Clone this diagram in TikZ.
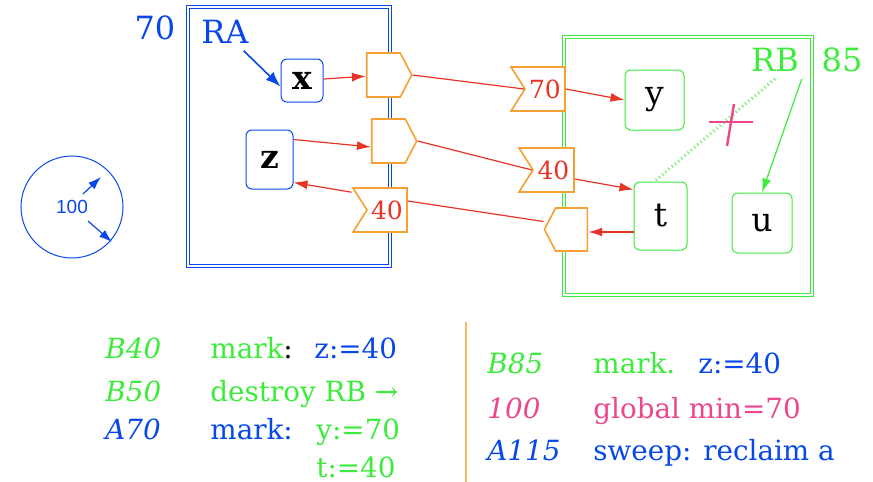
\documentclass[tikz,border=0pt]{standalone}
\usepackage{fontspec}
\usepackage{tikz}
\usetikzlibrary{shapes.symbols, arrows.meta}
\setmainfont{DejaVu Serif}
\newfontfamily\arialsans{Liberation Sans}
\definecolor{GCBlue}{RGB}{8,72,232}
\definecolor{GCGreen}{RGB}{60,235,60}
\definecolor{GCOrange}{RGB}{245,160,50}
\definecolor{GCRed}{RGB}{232,52,38}
\definecolor{GCPink}{RGB}{238,70,140}

\begin{document}
\begin{tikzpicture}[x=0.5pt, y=-0.5pt,
      obj/.style={rectangle, rounded corners=3pt, draw, line width=0.5pt,
                  inner sep=0pt, fill=white, font=\fontsize{16.5}{19}\selectfont},
      tag/.style={signal, draw=GCOrange, line width=0.8pt, inner sep=0pt,
                  fill=white, minimum height=22pt, text=GCRed,
                  font=\fontsize{12.5}{15}\selectfont},
      ptrout/.style={tag, signal to=east, signal pointer angle=125,
                     minimum width=22.5pt},
      ptrin/.style={tag, signal to=west, signal pointer angle=125,
                    minimum width=21.5pt, minimum height=21.5pt},
      msg/.style={tag, signal to=nowhere, signal from=west,
                  signal pointer angle=115, minimum width=27pt},
      frame/.style={line width=0.7pt, double, double distance=1pt},
      ref/.style={-{Latex[length=7pt, width=4.5pt]}, draw=GCRed, line width=0.6pt},
      big/.style={font=\fontsize{16}{19}\selectfont},
      log/.style={anchor=base west, inner sep=0pt, font=\fontsize{13.9}{16}\selectfont}
    ]
    \useasboundingbox (0,0) rectangle (873,482);

    \draw[frame, GCBlue]  (188,7)  rectangle (390,266);
    \draw[frame, GCGreen] (564,37) rectangle (812,295);

    \node[big, text=GCBlue]  (numA) at (155,28) {70};
    \node[big, text=GCBlue]  (ra)   at (225,32) {RA};
    \node[big, text=GCGreen] (rb)   at (775,60) {RB};
    \node[big, text=GCGreen] (numB) at (842,60) {85};

    \node[obj, draw=GCBlue, minimum width=21pt, minimum height=21.5pt]
          (x) at (302,80.5) {\bfseries x};
    \node[obj, draw=GCBlue, minimum width=23.5pt, minimum height=29.5pt]
          (z) at (269.5,159.5) {\bfseries z};
    \node[obj, draw=GCGreen, minimum width=29.5pt, minimum height=30pt]
          (y) at (654.5,100) {y};
    \node[obj, draw=GCGreen, minimum width=26.5pt, minimum height=34pt]
          (t) at (660.5,216) {t};
    \node[obj, draw=GCGreen, minimum width=30pt, minimum height=30pt]
          (u) at (762,223) {u};

    \node[ptrout] (ptrX) at (383.5,75)  {};
    \node[ptrout] (ptrZ) at (388.5,141) {};
    \node[ptrin]  (ptrT) at (571.5,229.5) {};
    \node[msg]    (msgZ) at (387,210)   {40};
    \node[msg]    (msgY) at (545,89)    {70};
    \node[msg, minimum width=27.5pt] (msgT) at (553.5,170) {40};

    \draw[-{Latex[length=7.5pt, width=5.5pt]}, GCBlue, line width=0.8pt]
          ([xshift=-6pt]ra.south east) -- ([yshift=-3pt]x.west);

    \draw[ref] (x) -- (ptrX);
    \draw[ref] ([yshift=10pt]z.east) -- ([yshift=-3pt]ptrZ.west);
    \draw[ref] ([yshift=-2.5pt]msgZ.north west) -- ([yshift=3.5pt]z.south east);
    \draw[GCRed, line width=0.6pt] (ptrX.east) -- (msgY.west);
    \draw[ref] (msgY.east) -- (y.west);
    \draw[GCRed, line width=0.6pt] (ptrZ.east) -- (msgT.west);
    \draw[ref] ([yshift=-4.5pt]msgT.east) -- ([yshift=-4pt]t.north west);
    \draw[ref, line width=0.9pt] ([yshift=-8pt]t.west) -- ([yshift=-1.25pt]ptrT.east);
    \draw[GCRed, line width=0.6pt] ([yshift=4.5pt]msgZ.east) -- ([yshift=4pt]ptrT.west);

    \draw[-{Latex[length=7pt, width=4.5pt]}, GCGreen, line width=0.6pt]
          ([xshift=-2pt]rb.south east) -- (u.north);
    \draw[GCGreen!70, line width=1.6pt, dash pattern=on 0.6pt off 1.5pt]
          (rb.south) -- ([xshift=-3pt]t.north);
    \draw[GCPink, line width=1.2pt] (709,122) -- (753,122);
    \draw[GCPink, line width=1.2pt] (734,104) -- (727,146);

    \node[circle, draw=GCBlue, line width=0.5pt, minimum size=51pt,
          text=GCBlue, font=\arialsans\fontsize{9.5}{11}\selectfont]
          (root) at (72,207) {100};
    \draw[-{Latex[length=6.5pt, width=4.5pt]}, GCBlue, line width=0.6pt]
          ([shift={(11,-13)}]root.center) -- ([shift={(29,-30)}]root.center);
    \draw[-{Latex[length=6.5pt, width=4.5pt]}, GCBlue, line width=0.6pt]
          ([shift={(16,14)}]root.center) -- ([shift={(40,35)}]root.center);

    \draw[GCOrange!75, line width=0.8pt] (466,322) -- (466,482);

    \node[log, text=GCGreen] (evB40)  at (105,358) {\itshape B40};
    \node[log, text=GCGreen] (opB40)  at (210,358) {mark\textcolor{black}{:}};
    \node[log, text=GCBlue]  (setB40) at (314,358) {z:=40};
    \node[log, text=GCGreen] (evB50)  at (105,401) {\itshape B50};
    \node[log, text=GCGreen] (opB50)  at (210,401) {destroy RB →};
    \node[log, text=GCBlue]  (evA70)  at (105,439) {\itshape A70};
    \node[log, text=GCBlue]  (opA70)  at (210,439) {mark:};
    \node[log, text=GCGreen] (setA70) at (316,439) {y:=70};
    \node[log, text=GCGreen] (setA70b) at (316,477) {t:=40};

    \node[log, text=GCGreen] (evB85)   at (487,373) {\itshape B85};
    \node[log, text=GCGreen] (opB85)   at (593,373) {mark.};
    \node[log, text=GCBlue]  (setB85)  at (698,373) {z:=40};
    \node[log, text=GCPink]  (ev100)   at (487,418) {\itshape 100};
    \node[log, text=GCPink]  (op100)   at (593,418) {global min=70};
    \node[log, text=GCBlue]  (evA115)  at (487,460) {\itshape A115};
    \node[log, text=GCBlue]  (opA115)  at (593,460) {sweep: reclaim a};
  \end{tikzpicture}
\end{document}
